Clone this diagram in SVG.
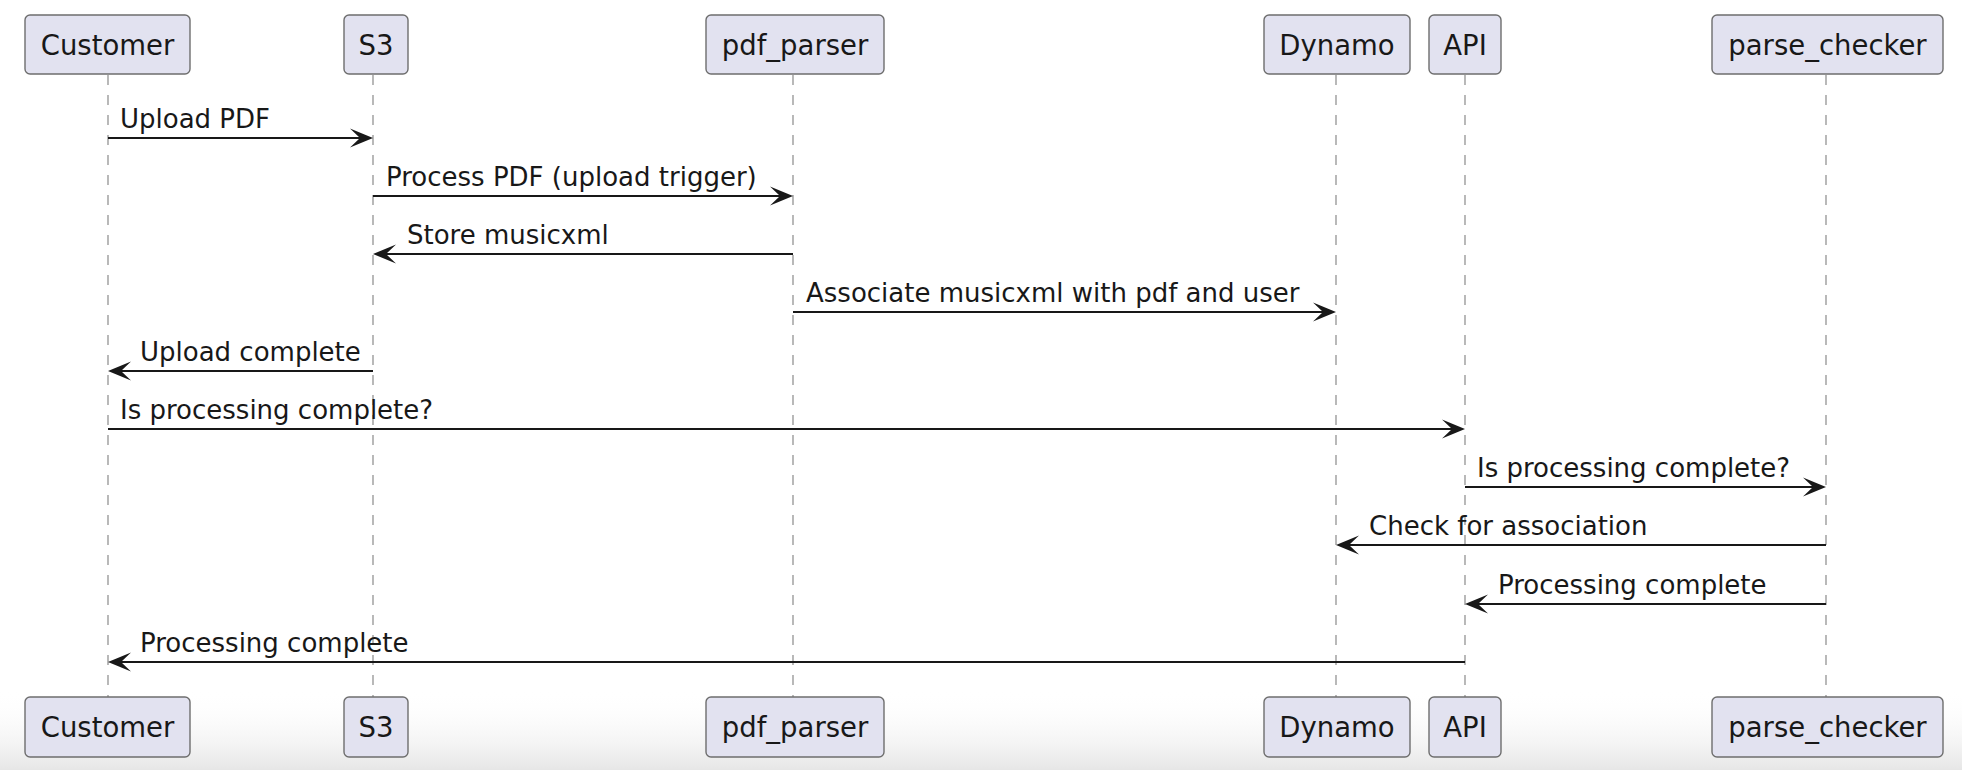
<svg xmlns="http://www.w3.org/2000/svg" width="1962" height="770" viewBox="0 0 1962 770">
<defs>
<style>
.box{fill:#E2E2F0;stroke:#6e6e6e;stroke-width:1.4}
.pt{font-family:"DejaVu Sans",sans-serif;font-size:27.5px;fill:#181818;text-anchor:middle}
.life{stroke:#8a8a8a;stroke-width:1.2;stroke-dasharray:10,10;fill:none}
.msg{stroke:#181818;stroke-width:2;fill:none;marker-end:url(#ah)}
.mt{font-family:"DejaVu Sans",sans-serif;font-size:26px;fill:#181818}
</style>
<marker id="ah" viewBox="-25 -12 28 24" refX="-3" refY="0" markerWidth="28" markerHeight="24" markerUnits="userSpaceOnUse" orient="auto">
<path d="M0,0 L-23,-9.5 L-13,0 L-23,9.5 Z" fill="#181818"/>
</marker>
<linearGradient id="bg" x1="0" y1="0" x2="0" y2="1">
<stop offset="0" stop-color="#ffffff" stop-opacity="0"/>
<stop offset="1" stop-color="#e6e6e6" stop-opacity="1"/>
</linearGradient>
</defs>
<rect x="0" y="0" width="1962" height="770" fill="#ffffff"/>
<rect x="0" y="690" width="1962" height="80" fill="url(#bg)"/>

<g id="Customer">
<line class="life" x1="108" y1="75" x2="108" y2="697"/>
<rect class="box" x="25" y="15" width="165" height="59" rx="5"/>
<text class="pt" x="107.5" y="55">Customer</text>
<rect class="box" x="25" y="697" width="165" height="60" rx="5"/>
<text class="pt" x="107.5" y="737">Customer</text>
</g>
<g id="S3">
<line class="life" x1="373" y1="75" x2="373" y2="697"/>
<rect class="box" x="344" y="15" width="64" height="59" rx="5"/>
<text class="pt" x="376" y="55">S3</text>
<rect class="box" x="344" y="697" width="64" height="60" rx="5"/>
<text class="pt" x="376" y="737">S3</text>
</g>
<g id="pdf_parser">
<line class="life" x1="793" y1="75" x2="793" y2="697"/>
<rect class="box" x="706" y="15" width="178" height="59" rx="5"/>
<text class="pt" x="795" y="55">pdf_parser</text>
<rect class="box" x="706" y="697" width="178" height="60" rx="5"/>
<text class="pt" x="795" y="737">pdf_parser</text>
</g>
<g id="Dynamo">
<line class="life" x1="1336" y1="75" x2="1336" y2="697"/>
<rect class="box" x="1264" y="15" width="146" height="59" rx="5"/>
<text class="pt" x="1337" y="55">Dynamo</text>
<rect class="box" x="1264" y="697" width="146" height="60" rx="5"/>
<text class="pt" x="1337" y="737">Dynamo</text>
</g>
<g id="API">
<line class="life" x1="1465" y1="75" x2="1465" y2="697"/>
<rect class="box" x="1429" y="15" width="72" height="59" rx="5"/>
<text class="pt" x="1465" y="55">API</text>
<rect class="box" x="1429" y="697" width="72" height="60" rx="5"/>
<text class="pt" x="1465" y="737">API</text>
</g>
<g id="parse_checker">
<line class="life" x1="1826" y1="75" x2="1826" y2="697"/>
<rect class="box" x="1712" y="15" width="231" height="59" rx="5"/>
<text class="pt" x="1827.5" y="55">parse_checker</text>
<rect class="box" x="1712" y="697" width="231" height="60" rx="5"/>
<text class="pt" x="1827.5" y="737">parse_checker</text>
</g>

<g id="connectors">
<line class="msg" x1="108" y1="138" x2="370" y2="138"/>
<text class="mt" x="120" y="128">Upload PDF</text>
<line class="msg" x1="373" y1="196" x2="790" y2="196"/>
<text class="mt" x="386" y="186">Process PDF (upload trigger)</text>
<line class="msg" x1="793" y1="254" x2="376" y2="254"/>
<text class="mt" x="407" y="244">Store musicxml</text>
<line class="msg" x1="793" y1="312" x2="1333" y2="312"/>
<text class="mt" x="806" y="302">Associate musicxml with pdf and user</text>
<line class="msg" x1="373" y1="371" x2="111" y2="371"/>
<text class="mt" x="140" y="361">Upload complete</text>
<line class="msg" x1="108" y1="429" x2="1462" y2="429"/>
<text class="mt" x="120" y="419">Is processing complete?</text>
<line class="msg" x1="1465" y1="487" x2="1823" y2="487"/>
<text class="mt" x="1477" y="477">Is processing complete?</text>
<line class="msg" x1="1826" y1="545" x2="1339" y2="545"/>
<text class="mt" x="1369" y="535">Check for association</text>
<line class="msg" x1="1826" y1="604" x2="1468" y2="604"/>
<text class="mt" x="1498" y="594">Processing complete</text>
<line class="msg" x1="1465" y1="662" x2="111" y2="662"/>
<text class="mt" x="140" y="652">Processing complete</text>
</g>
</svg>
